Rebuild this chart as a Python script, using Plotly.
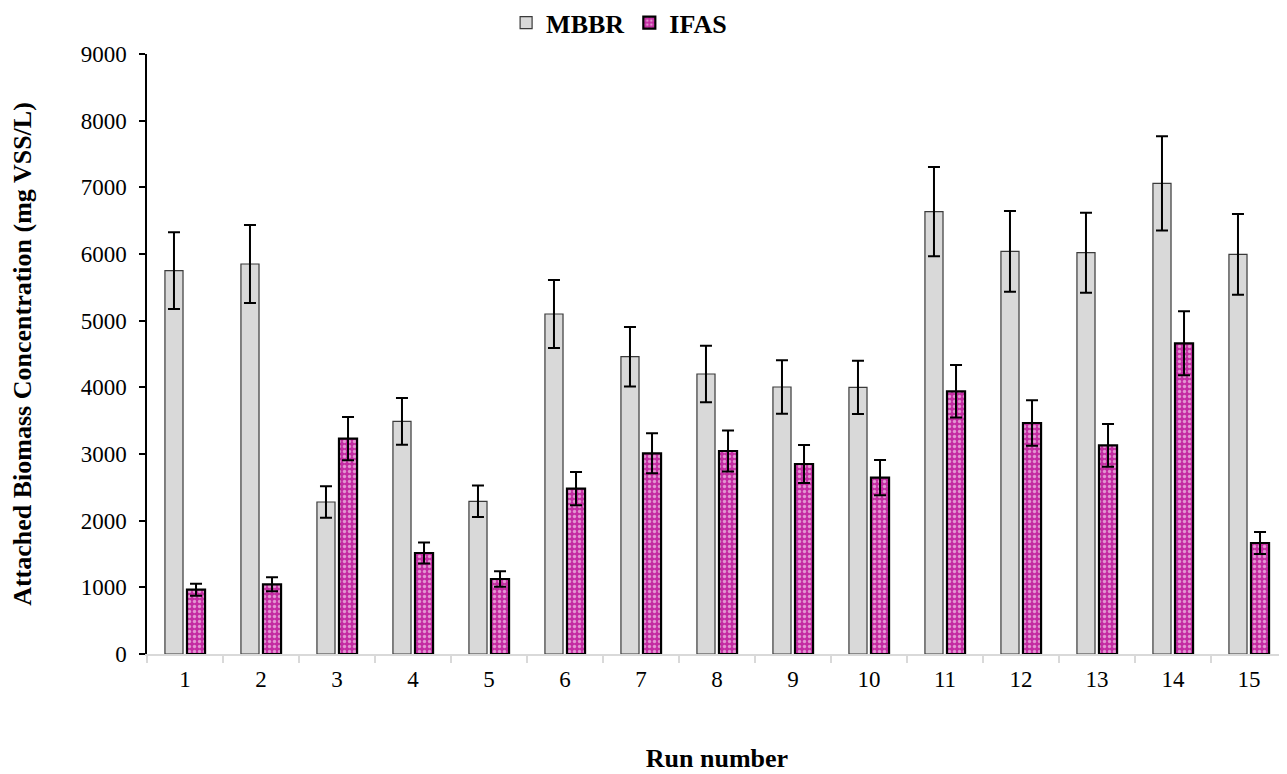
import plotly.graph_objects as go

runs = [str(i) for i in range(1, 16)]
mbbr = [5750, 5850, 2280, 3490, 2290, 5100, 4460, 4200, 4005, 4000, 6635, 6040, 6020, 7060, 5995]
mbbr_err = [575, 585, 235, 350, 236, 510, 446, 425, 400, 400, 670, 605, 600, 706, 605]
ifas = [965, 1045, 3230, 1515, 1125, 2480, 3010, 3045, 2850, 2645, 3940, 3465, 3130, 4660, 1665]
ifas_err = [90, 105, 325, 156, 115, 250, 300, 306, 285, 264, 394, 340, 320, 480, 165]

FONT = "Liberation Serif, Times New Roman, serif"

fig = go.Figure()
fig.add_trace(go.Bar(
    name="MBBR", x=runs, y=mbbr,
    marker=dict(color="#D9D9D9", line=dict(color="#3a3a3a", width=1.2)),
    error_y=dict(type="data", array=mbbr_err, visible=True, color="black", thickness=2, width=6),
))
fig.add_trace(go.Bar(
    name="IFAS", x=runs, y=ifas,
    marker=dict(color="white", line=dict(color="black", width=2.2),
                pattern=dict(shape=".", fgcolor="white", bgcolor="#C42BA2", size=5, solidity=0.35)),
    error_y=dict(type="data", array=ifas_err, visible=True, color="black", thickness=2, width=6),
))

fig.update_layout(
    width=1287, height=774,
    margin=dict(l=139, r=8, t=46, b=128, autoexpand=False),
    paper_bgcolor="white", plot_bgcolor="white",
    barmode="group", bargap=0.42, bargroupgap=0.18,
    font=dict(family=FONT, size=23, color="black"),
    legend=dict(orientation="h", x=0.315, xanchor="left", y=0.981, yanchor="middle", yref="container",
                font=dict(family=FONT, size=26, color="black", weight="bold"),
                itemwidth=30, traceorder="normal", tracegroupgap=0),
    showlegend=True,
)
fig.update_yaxes(
    range=[0, 9000], dtick=1000, showgrid=False, zeroline=False, automargin=False,
    showline=True, linecolor="black", linewidth=1.5,
    ticks="outside", ticklen=6, tickcolor="black", tickwidth=1.5, ticklabelstandoff=8,
    tickfont=dict(family=FONT, size=23),
    title=dict(text="<b>Attached Biomass Concentration (mg VSS/L)</b>", font=dict(family=FONT, size=26), standoff=54),
)
fig.update_xaxes(
    showgrid=False, showline=True, linecolor="#D9D9D9", linewidth=1.5, automargin=False,
    ticks="outside", tickson="boundaries", ticklen=7, tickcolor="#D9D9D9", tickwidth=1.5, ticklabelstandoff=4,
    tickfont=dict(family=FONT, size=23),
    title=dict(text="<b>Run number</b>", font=dict(family=FONT, size=26), standoff=57),
)

fig.write_html("out.html")
